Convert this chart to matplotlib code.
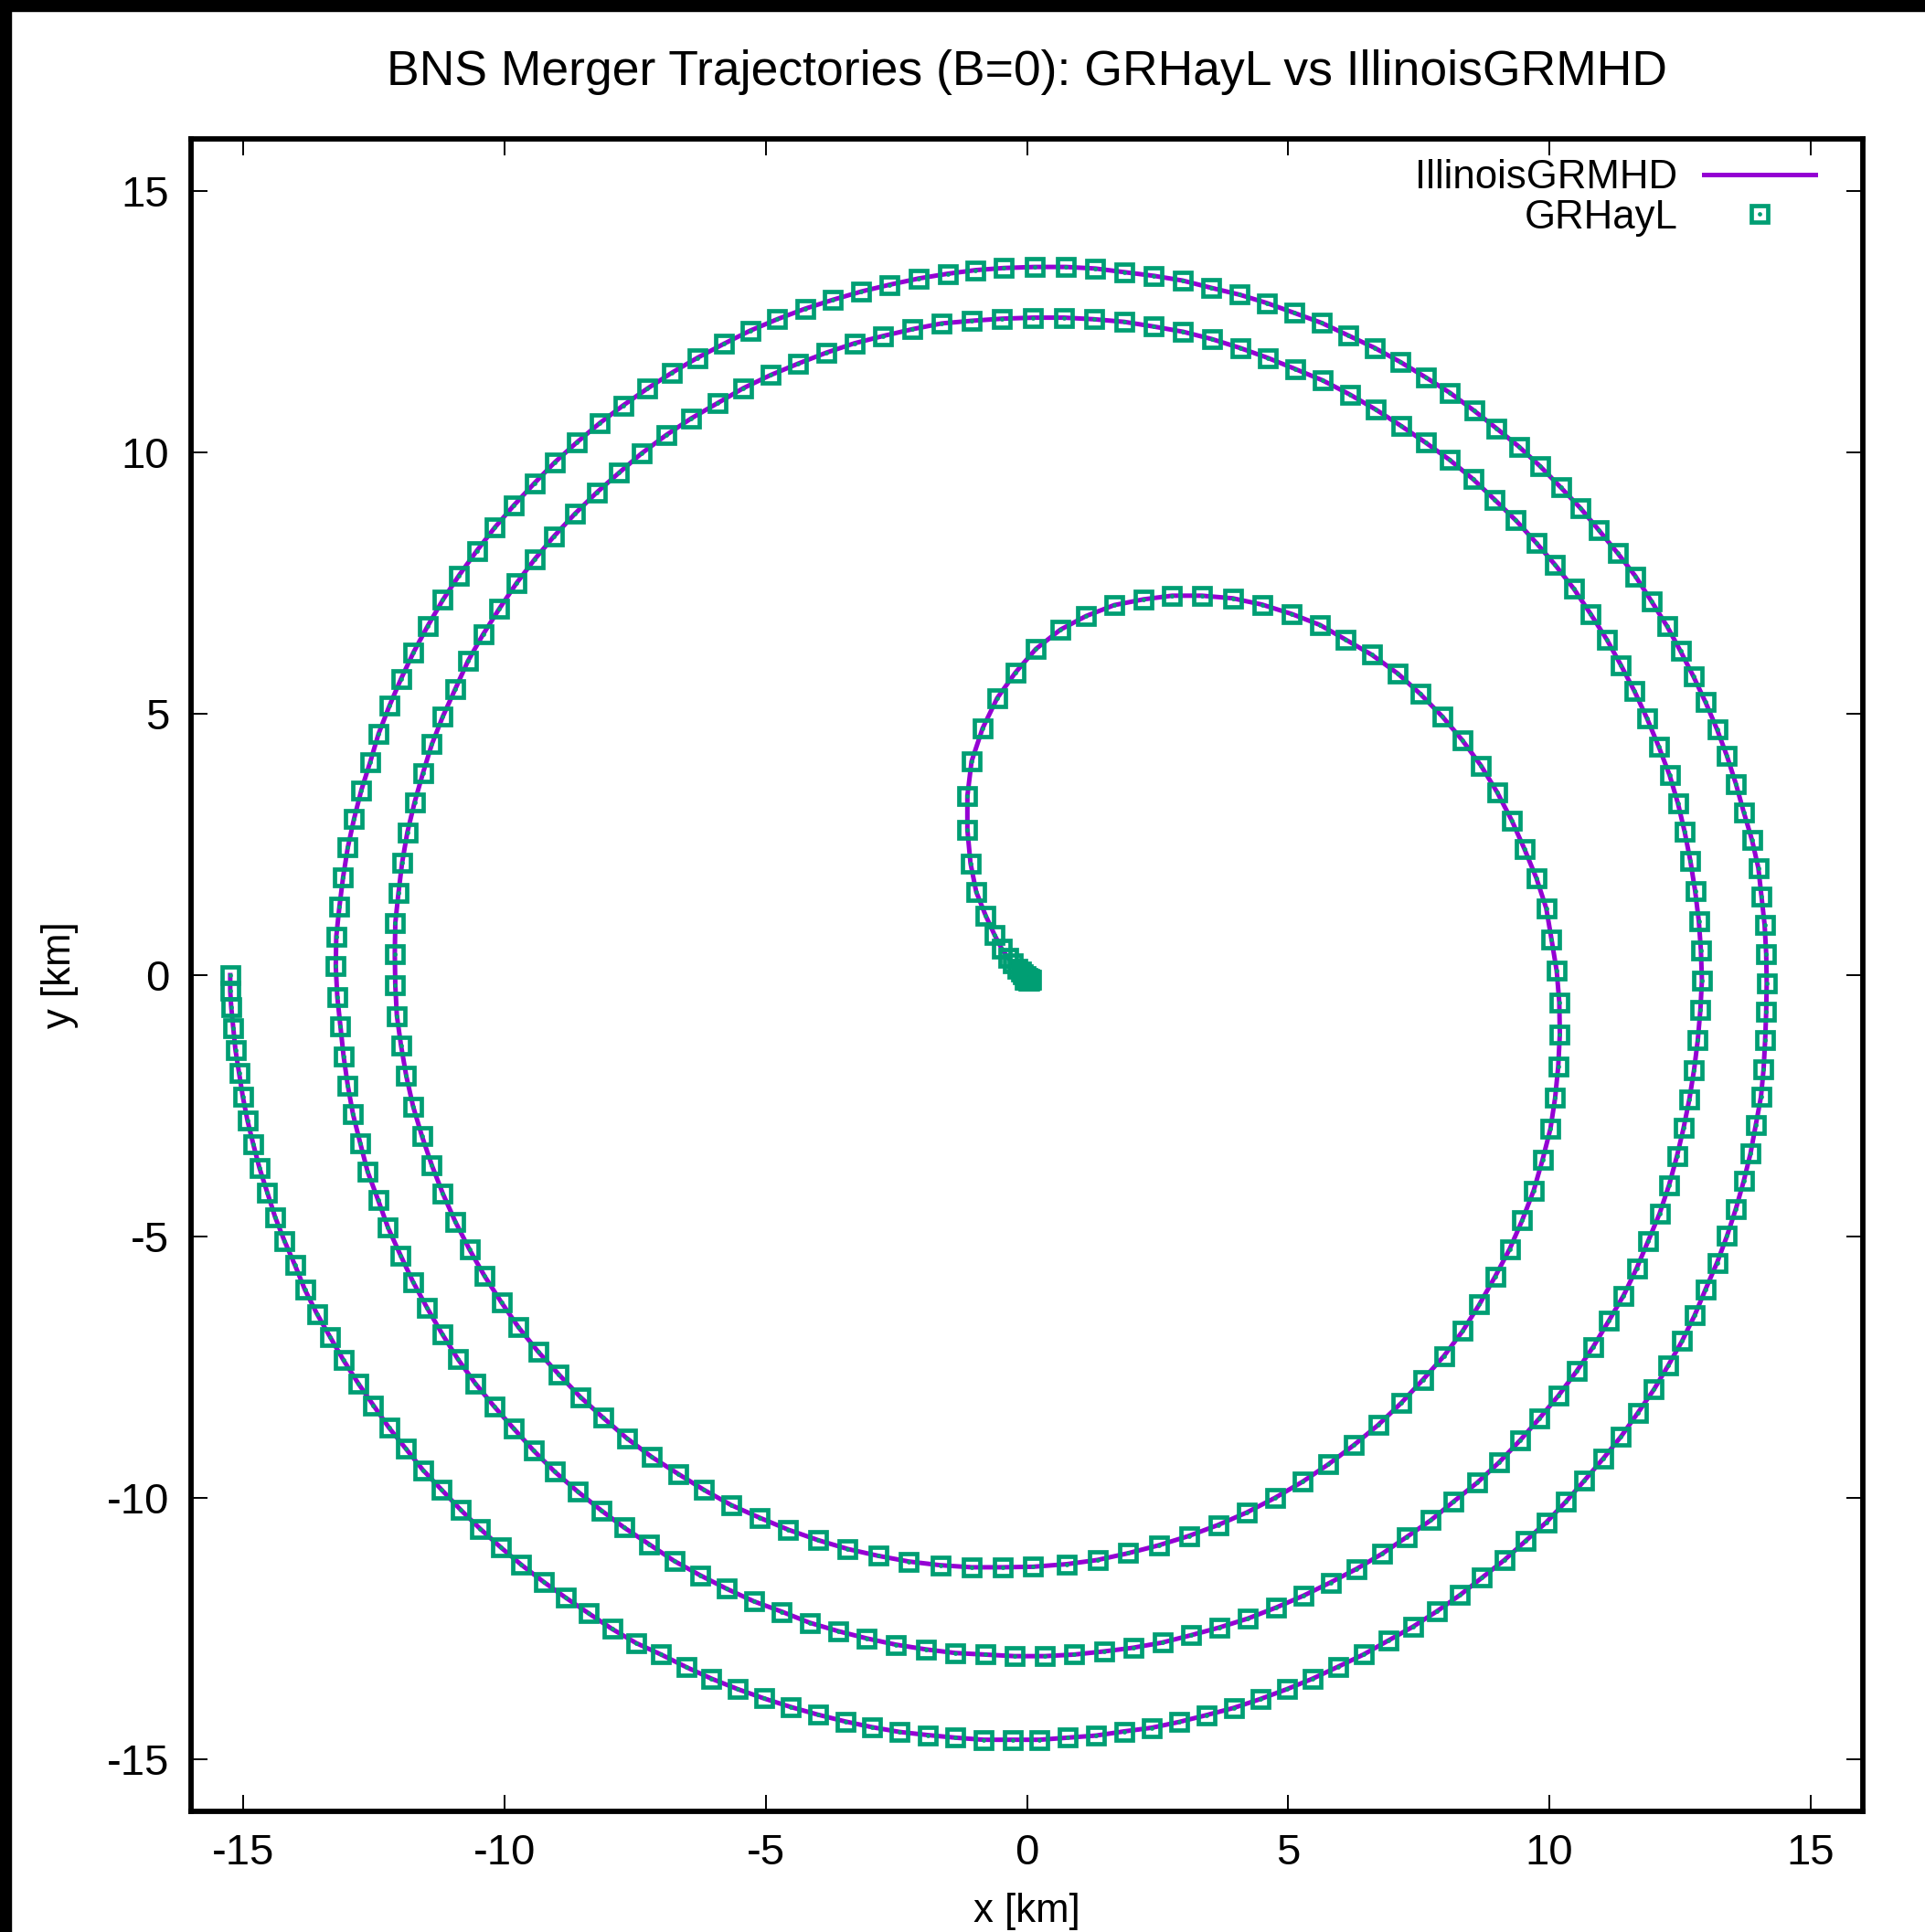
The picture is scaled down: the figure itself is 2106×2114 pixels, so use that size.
import matplotlib.pyplot as plt
from matplotlib.patches import Rectangle
from matplotlib.legend_handler import HandlerTuple

plt.rcParams['font.family'] = ['Liberation Sans', 'DejaVu Sans']
plt.rcParams['axes.unicode_minus'] = False

# star trajectory (km), in time order
grhayl_x = [
    # first orbit, left -> bottom
    -15.25, -15.25, -15.23, -15.19, -15.15, -15.08, -15.01, -14.92, -14.81, -14.69,
    -14.54, -14.39, -14.21, -14.01, -13.82, -13.59, -13.34, -13.08, -12.80, -12.51,
    -12.21, -11.89, -11.56, -11.21, -10.84, -10.47, -10.07, -9.68, -9.25, -8.83,
    -8.39, -7.94, -7.48, -7.00, -6.52, -6.04, -5.54, -5.03, -4.53, -4.00,
    -3.48, -2.96, -2.44, -1.90, -1.37, -0.83, -0.27,
    # bottom -> right
    0.24, 0.78, 1.32, 1.86, 2.39, 2.91, 3.43, 3.96, 4.47, 4.98,
    5.47, 5.96, 6.44, 6.92, 7.40, 7.85, 8.29, 8.71, 9.14, 9.54,
    9.94, 10.32, 10.67, 11.03, 11.37, 11.69, 12.00, 12.28, 12.54, 12.78,
    12.99, 13.21, 13.40, 13.57, 13.72, 13.85, 13.95, 14.05, 14.10, 14.13,
    14.15, 14.16,
    # right -> top
    14.15, 14.12, 14.06, 14.00, 13.88, 13.72, 13.57, 13.40, 13.21, 12.99,
    12.76, 12.51, 12.25, 11.95, 11.65, 11.31, 10.95, 10.60, 10.22, 9.82,
    9.42, 8.99, 8.56, 8.10, 7.63, 7.15, 6.66, 6.15, 5.64, 5.12,
    4.59, 4.07, 3.53, 2.98, 2.43, 1.87, 1.31, 0.75, 0.15,
    # top -> left
    -0.44, -0.98, -1.52, -2.07, -2.63, -3.17, -3.72, -4.25, -4.78, -5.30,
    -5.80, -6.31, -6.79, -7.27, -7.73, -8.18, -8.62, -9.04, -9.43, -9.82,
    -10.19, -10.53, -10.87, -11.18, -11.47, -11.74, -11.98, -12.20, -12.41, -12.57,
    -12.74, -12.88, -13.00, -13.09, -13.16, -13.22, -13.23,
    # second orbit
    -13.20, -13.14, -13.08, -13.00, -12.90, -12.76, -12.62, -12.42, -12.23, -11.99,
    -11.75, -11.48, -11.19, -10.89, -10.56, -10.20, -9.82, -9.44, -9.04, -8.60,
    -8.15, -7.71, -7.23, -6.75, -6.26, -5.75, -5.23, -4.69, -4.16, -3.62,
    -3.07, -2.51, -1.94, -1.37, -0.80, -0.24,
    0.34, 0.90, 1.47, 2.03, 2.59, 3.14, 3.69, 4.23, 4.77, 5.30,
    5.81, 6.31, 6.80, 7.27, 7.73, 8.17, 8.62, 9.04, 9.44, 9.81,
    10.17, 10.52, 10.84, 11.14, 11.42, 11.67, 11.89, 12.11, 12.29, 12.44,
    12.57, 12.68, 12.77, 12.84, 12.89, 12.92,
    12.90, 12.86, 12.79, 12.70, 12.59, 12.46, 12.30, 12.09, 11.87, 11.63,
    11.37, 11.10, 10.79, 10.47, 10.11, 9.75, 9.36, 8.95, 8.54, 8.09,
    7.63, 7.16, 6.68, 6.18, 5.66, 5.13, 4.61, 4.08, 3.54, 2.99,
    2.43, 1.86, 1.28, 0.71, 0.12,
    -0.48, -1.06, -1.63, -2.19, -2.75, -3.30, -3.84, -4.38, -4.91, -5.43,
    -5.93, -6.43, -6.91, -7.38, -7.81, -8.24, -8.65, -9.05, -9.42, -9.77,
    -10.10, -10.41, -10.70, -10.94, -11.18, -11.39, -11.56, -11.72, -11.86, -11.96,
    -12.03, -12.09, -12.10,
    # third orbit
    -12.09, -12.06, -11.98, -11.88, -11.75, -11.58, -11.39, -11.18, -10.94, -10.67,
    -10.38, -10.06, -9.73, -9.36, -8.96, -8.55, -8.11, -7.66, -7.18, -6.68,
    -6.18, -5.66, -5.12, -4.57, -4.00, -3.43, -2.85, -2.26, -1.66, -1.06,
    -0.47, 0.12,
    0.76, 1.35, 1.94, 2.52, 3.10, 3.66, 4.21, 4.75, 5.28, 5.77,
    6.26, 6.72, 7.16, 7.58, 7.98, 8.34, 8.66, 8.96, 9.24, 9.48,
    9.70, 9.87, 10.02, 10.11, 10.17, 10.20, 10.19, 10.14,
    10.04, 9.94, 9.75, 9.52, 9.28, 9.00, 8.69, 8.33, 7.95, 7.53,
    7.10, 6.60, 6.10, 5.61, 5.07, 4.50, 3.94, 3.35, 2.78, 2.23,
    1.67, 1.13, 0.64, 0.17, -0.22,
    # plunge and merger
    -0.57, -0.85, -1.06, -1.14, -1.14, -1.08, -0.97, -0.79, -0.62, -0.48,
    -0.36, -0.27, -0.19, -0.12, -0.07, -0.03, 0.01, 0.04, 0.06, 0.07,
    0.05, 0.02, -0.02, -0.05,
]
grhayl_y = [
    0.00, -0.30, -0.62, -1.02, -1.43, -1.87, -2.32, -2.78, -3.23, -3.69,
    -4.16, -4.63, -5.09, -5.55, -6.02, -6.48, -6.92, -7.37, -7.81, -8.23,
    -8.66, -9.06, -9.47, -9.84, -10.23, -10.59, -10.95, -11.28, -11.61, -11.91,
    -12.21, -12.51, -12.78, -13.00, -13.24, -13.46, -13.66, -13.84, -14.00, -14.15,
    -14.28, -14.39, -14.48, -14.54, -14.59, -14.63, -14.63,
    -14.63, -14.59, -14.55, -14.47, -14.40, -14.29, -14.16, -14.02, -13.85, -13.66,
    -13.46, -13.23, -13.00, -12.73, -12.46, -12.17, -11.86, -11.53, -11.19, -10.83,
    -10.47, -10.07, -9.67, -9.25, -8.83, -8.38, -7.93, -7.46, -7.00, -6.51,
    -6.01, -5.50, -4.99, -4.47, -3.94, -3.41, -2.87, -2.33, -1.80, -1.25,
    -0.70, -0.15,
    0.41, 0.96, 1.51, 2.05, 2.58, 3.12, 3.66, 4.19, 4.70, 5.22,
    5.71, 6.20, 6.68, 7.16, 7.63, 8.07, 8.51, 8.93, 9.33, 9.74,
    10.11, 10.46, 10.80, 11.14, 11.44, 11.73, 12.00, 12.24, 12.48, 12.67,
    12.86, 13.02, 13.15, 13.29, 13.38, 13.45, 13.52, 13.55, 13.55,
    13.53, 13.49, 13.42, 13.33, 13.21, 13.08, 12.92, 12.75, 12.55, 12.33,
    12.08, 11.81, 11.53, 11.22, 10.90, 10.56, 10.19, 9.81, 9.41, 8.99,
    8.56, 8.12, 7.65, 7.18, 6.68, 6.18, 5.67, 5.16, 4.62, 4.08,
    3.54, 2.99, 2.44, 1.87, 1.31, 0.74, 0.17,
    -0.42, -0.98, -1.55, -2.11, -2.66, -3.22, -3.76, -4.30, -4.83, -5.36,
    -5.87, -6.37, -6.87, -7.35, -7.81, -8.25, -8.68, -9.10, -9.50, -9.88,
    -10.24, -10.57, -10.89, -11.21, -11.48, -11.74, -11.98, -12.18, -12.39, -12.55,
    -12.69, -12.81, -12.90, -12.97, -13.00, -13.03,
    -13.03, -13.00, -12.94, -12.87, -12.77, -12.63, -12.48, -12.31, -12.10, -11.87,
    -11.62, -11.36, -11.07, -10.75, -10.43, -10.07, -9.71, -9.32, -8.90, -8.48,
    -8.05, -7.58, -7.11, -6.61, -6.13, -5.61, -5.09, -4.56, -4.02, -3.47,
    -2.92, -2.37, -1.81, -1.25, -0.67, -0.10,
    0.48, 1.04, 1.61, 2.18, 2.74, 3.29, 3.83, 4.38, 4.91, 5.43,
    5.93, 6.42, 6.91, 7.39, 7.85, 8.27, 8.70, 9.10, 9.49, 9.86,
    10.19, 10.51, 10.82, 11.11, 11.38, 11.60, 11.81, 12.00, 12.17, 12.31,
    12.41, 12.50, 12.55, 12.58, 12.58,
    12.56, 12.52, 12.47, 12.36, 12.23, 12.09, 11.91, 11.70, 11.48, 11.23,
    10.94, 10.65, 10.33, 9.98, 9.61, 9.23, 8.83, 8.40, 7.96, 7.50,
    7.01, 6.52, 6.01, 5.48, 4.95, 4.42, 3.87, 3.31, 2.73, 2.15,
    1.57, 1.00, 0.41,
    -0.20, -0.78, -1.35, -1.93, -2.51, -3.08, -3.64, -4.18, -4.72, -5.25,
    -5.76, -6.26, -6.74, -7.20, -7.64, -8.07, -8.47, -8.86, -9.22, -9.54,
    -9.85, -10.14, -10.38, -10.61, -10.81, -10.98, -11.11, -11.22, -11.29, -11.33,
    -11.33, -11.32,
    -11.27, -11.19, -11.06, -10.91, -10.73, -10.52, -10.28, -10.00, -9.69, -9.36,
    -8.99, -8.61, -8.19, -7.74, -7.29, -6.81, -6.30, -5.77, -5.24, -4.69,
    -4.12, -3.53, -2.94, -2.35, -1.74, -1.13, -0.52, 0.08,
    0.69, 1.28, 1.86, 2.42, 2.96, 3.50, 4.01, 4.50, 4.95, 5.38,
    5.77, 6.13, 6.42, 6.70, 6.91, 7.09, 7.21, 7.26, 7.26, 7.19,
    7.08, 6.87, 6.61, 6.24, 5.79,
    5.30, 4.72, 4.09, 3.43, 2.78, 2.14, 1.59, 1.14, 0.77, 0.50,
    0.33, 0.22, 0.13, 0.07, 0.02, -0.02, -0.05, -0.07, -0.08, -0.09,
    -0.10, -0.10, -0.09, -0.08,
]
# the IllinoisGRMHD curve sits right on top of the GRHayL points
illinois_x = list(grhayl_x)
illinois_y = list(grhayl_y)

labels = ['IllinoisGRMHD', 'GRHayL']
ticks = [-15, -10, -5, 0, 5, 10, 15]
purple = '#9400d3'
green = '#009e73'

W, H = 2106, 2114
fig = plt.figure(figsize=(W / 100, H / 100), dpi=100)
ax = fig.add_axes([209 / W, 1 - 1982 / H, 1829 / W, 1830 / H])

line, = ax.plot(illinois_x, illinois_y, color=purple, lw=3.6, zorder=2)
sq, = ax.plot(grhayl_x, grhayl_y, ls='none', marker='s', ms=12.5, mfc='none',
              mec=green, mew=3.4, zorder=3)
dot, = ax.plot(grhayl_x, grhayl_y, ls='none', marker='o', ms=3.4, mfc=green,
               mec=green, mew=0, zorder=3)

ax.set_xlim(-16, 16)
ax.set_ylim(-16, 16)
ax.set_xticks(ticks)
ax.set_yticks(ticks)
ax.tick_params(direction='in', length=13, width=1.4, top=True, right=True,
               labelsize=34, pad=17)
for s in ax.spines.values():
    s.set_linewidth(4.2)

ax.legend([line, (sq, dot)], labels, loc='upper right',
          bbox_to_anchor=(0.9716, 0.988), frameon=False, markerfirst=False,
          handlelength=2.8, handletextpad=0.64, labelspacing=0.06,
          borderpad=0, borderaxespad=0, fontsize=31.5,
          handler_map={tuple: HandlerTuple(ndivide=1)})

cx = 1123.5 / W
fig.text(cx, 1 - 79 / H, 'BNS Merger Trajectories (B=0): GRHayL vs IllinoisGRMHD',
         ha='center', va='center', fontsize=38.5)
fig.text(cx, 23 / H, 'x [km]', ha='center', va='center', fontsize=31.5)
fig.text(65 / W, 1 - 1067 / H, 'y [km]', ha='center', va='center',
         rotation=90, fontsize=31.5)

# dark strips along the top and left edge of the image
fig.add_artist(Rectangle((0, 1 - 12 / H), 1, 12 / H, transform=fig.transFigure,
                         color='black', zorder=10))
fig.add_artist(Rectangle((0, 0), 12 / W, 1, transform=fig.transFigure,
                         color='black', zorder=10))

fig.savefig('out.png', dpi=100)
